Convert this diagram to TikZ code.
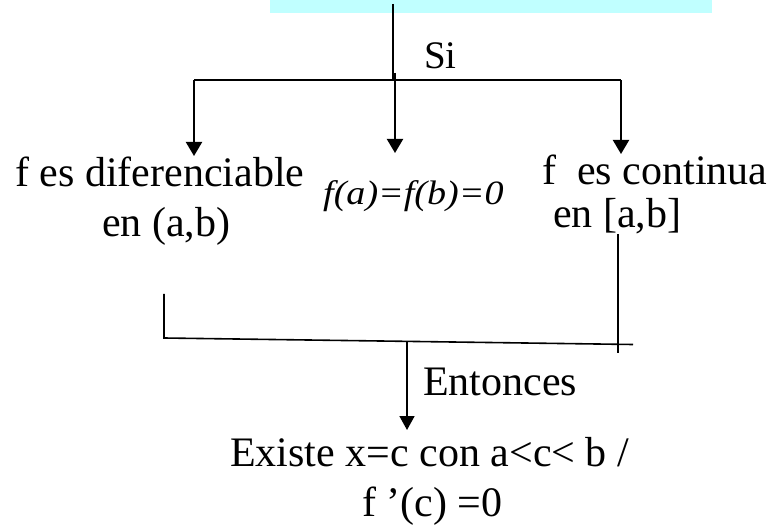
\documentclass[tikz,border=0pt]{standalone}
\usepackage{fontspec}
\setmainfont{Liberation Serif}
\usetikzlibrary{arrows.meta}
\definecolor{topcyan}{RGB}{192,255,255}
\tikzset{
  txt/.style={anchor=base west, inner sep=0pt, font=\fontsize{42}{50}\selectfont},
  conn/.style={line width=2pt, black},
  arr/.style={conn, -{Triangle[width=16pt,length=14pt]}},
  thin/.style={line width=1.6pt, black},
  thinarr/.style={thin, -{Triangle[width=15pt,length=14pt]}}
}
\begin{document}
\begin{tikzpicture}[x=1pt,y=-1pt]
\useasboundingbox (0,0) rectangle (773,526);
% top box
\node (top) [fill=topcyan, anchor=north west, minimum width=442pt, minimum height=13pt, inner sep=0pt] at (270,0) {};
% texts
\node (si) [txt, font=\fontsize{39}{44}\selectfont] at (424,69) {Si};
\node (dif1) [txt] at (15,187) {f es diferenciable};
\node (dif2) [txt] at (102,237) {en (a,b)};
\node (fab) [txt, font=\fontsize{34}{38}\selectfont\itshape] at (323,205) {\scalebox{1.12}[1]{f(a)=f(b)=0}};
\node (con1) [txt] at (542,185) {f\ \ es continua};
\node (con2) [txt] at (553,228) {en [a,b]};
\node (ent) [txt] at (423,395) {Entonces};
\node (ex1) [txt] at (230,466) {Existe x=c con a<c< b /};
\node (ex2) [txt] at (362,516) {f ’(c) =0};
% junction coordinates
\coordinate (t0) at (393,4);
\coordinate (t1) at (393,80.5);
\coordinate (hl) at (194,80.5);
\coordinate (hr) at (621,80.5);
\coordinate (m0) at (395,73);
\coordinate (aL) at (194,156);
\coordinate (aM) at (395,153);
\coordinate (aR) at (621,154);
\coordinate (bL0) at (164,294);
\coordinate (bL1) at (164,338);
\coordinate (bR0) at (618,234);
\coordinate (bR1) at (618,353);
\coordinate (bE) at (633,344.5);
\coordinate (bM0) at (407,341);
\coordinate (bM1) at (407,430);
% connectors
\draw[conn] (t0) -- (t1);
\draw[conn] (hl) -- (hr);
\draw[arr] (hl) -- (aL);
\draw[arr] (m0) -- (aM);
\draw[arr] (hr) -- (aR);
\draw[thin] (bL0) -- (bL1) -- (bE);
\draw[thin] (bR0) -- (bR1);
\draw[thinarr] (bM0) -- (bM1);
\end{tikzpicture}
\end{document}
